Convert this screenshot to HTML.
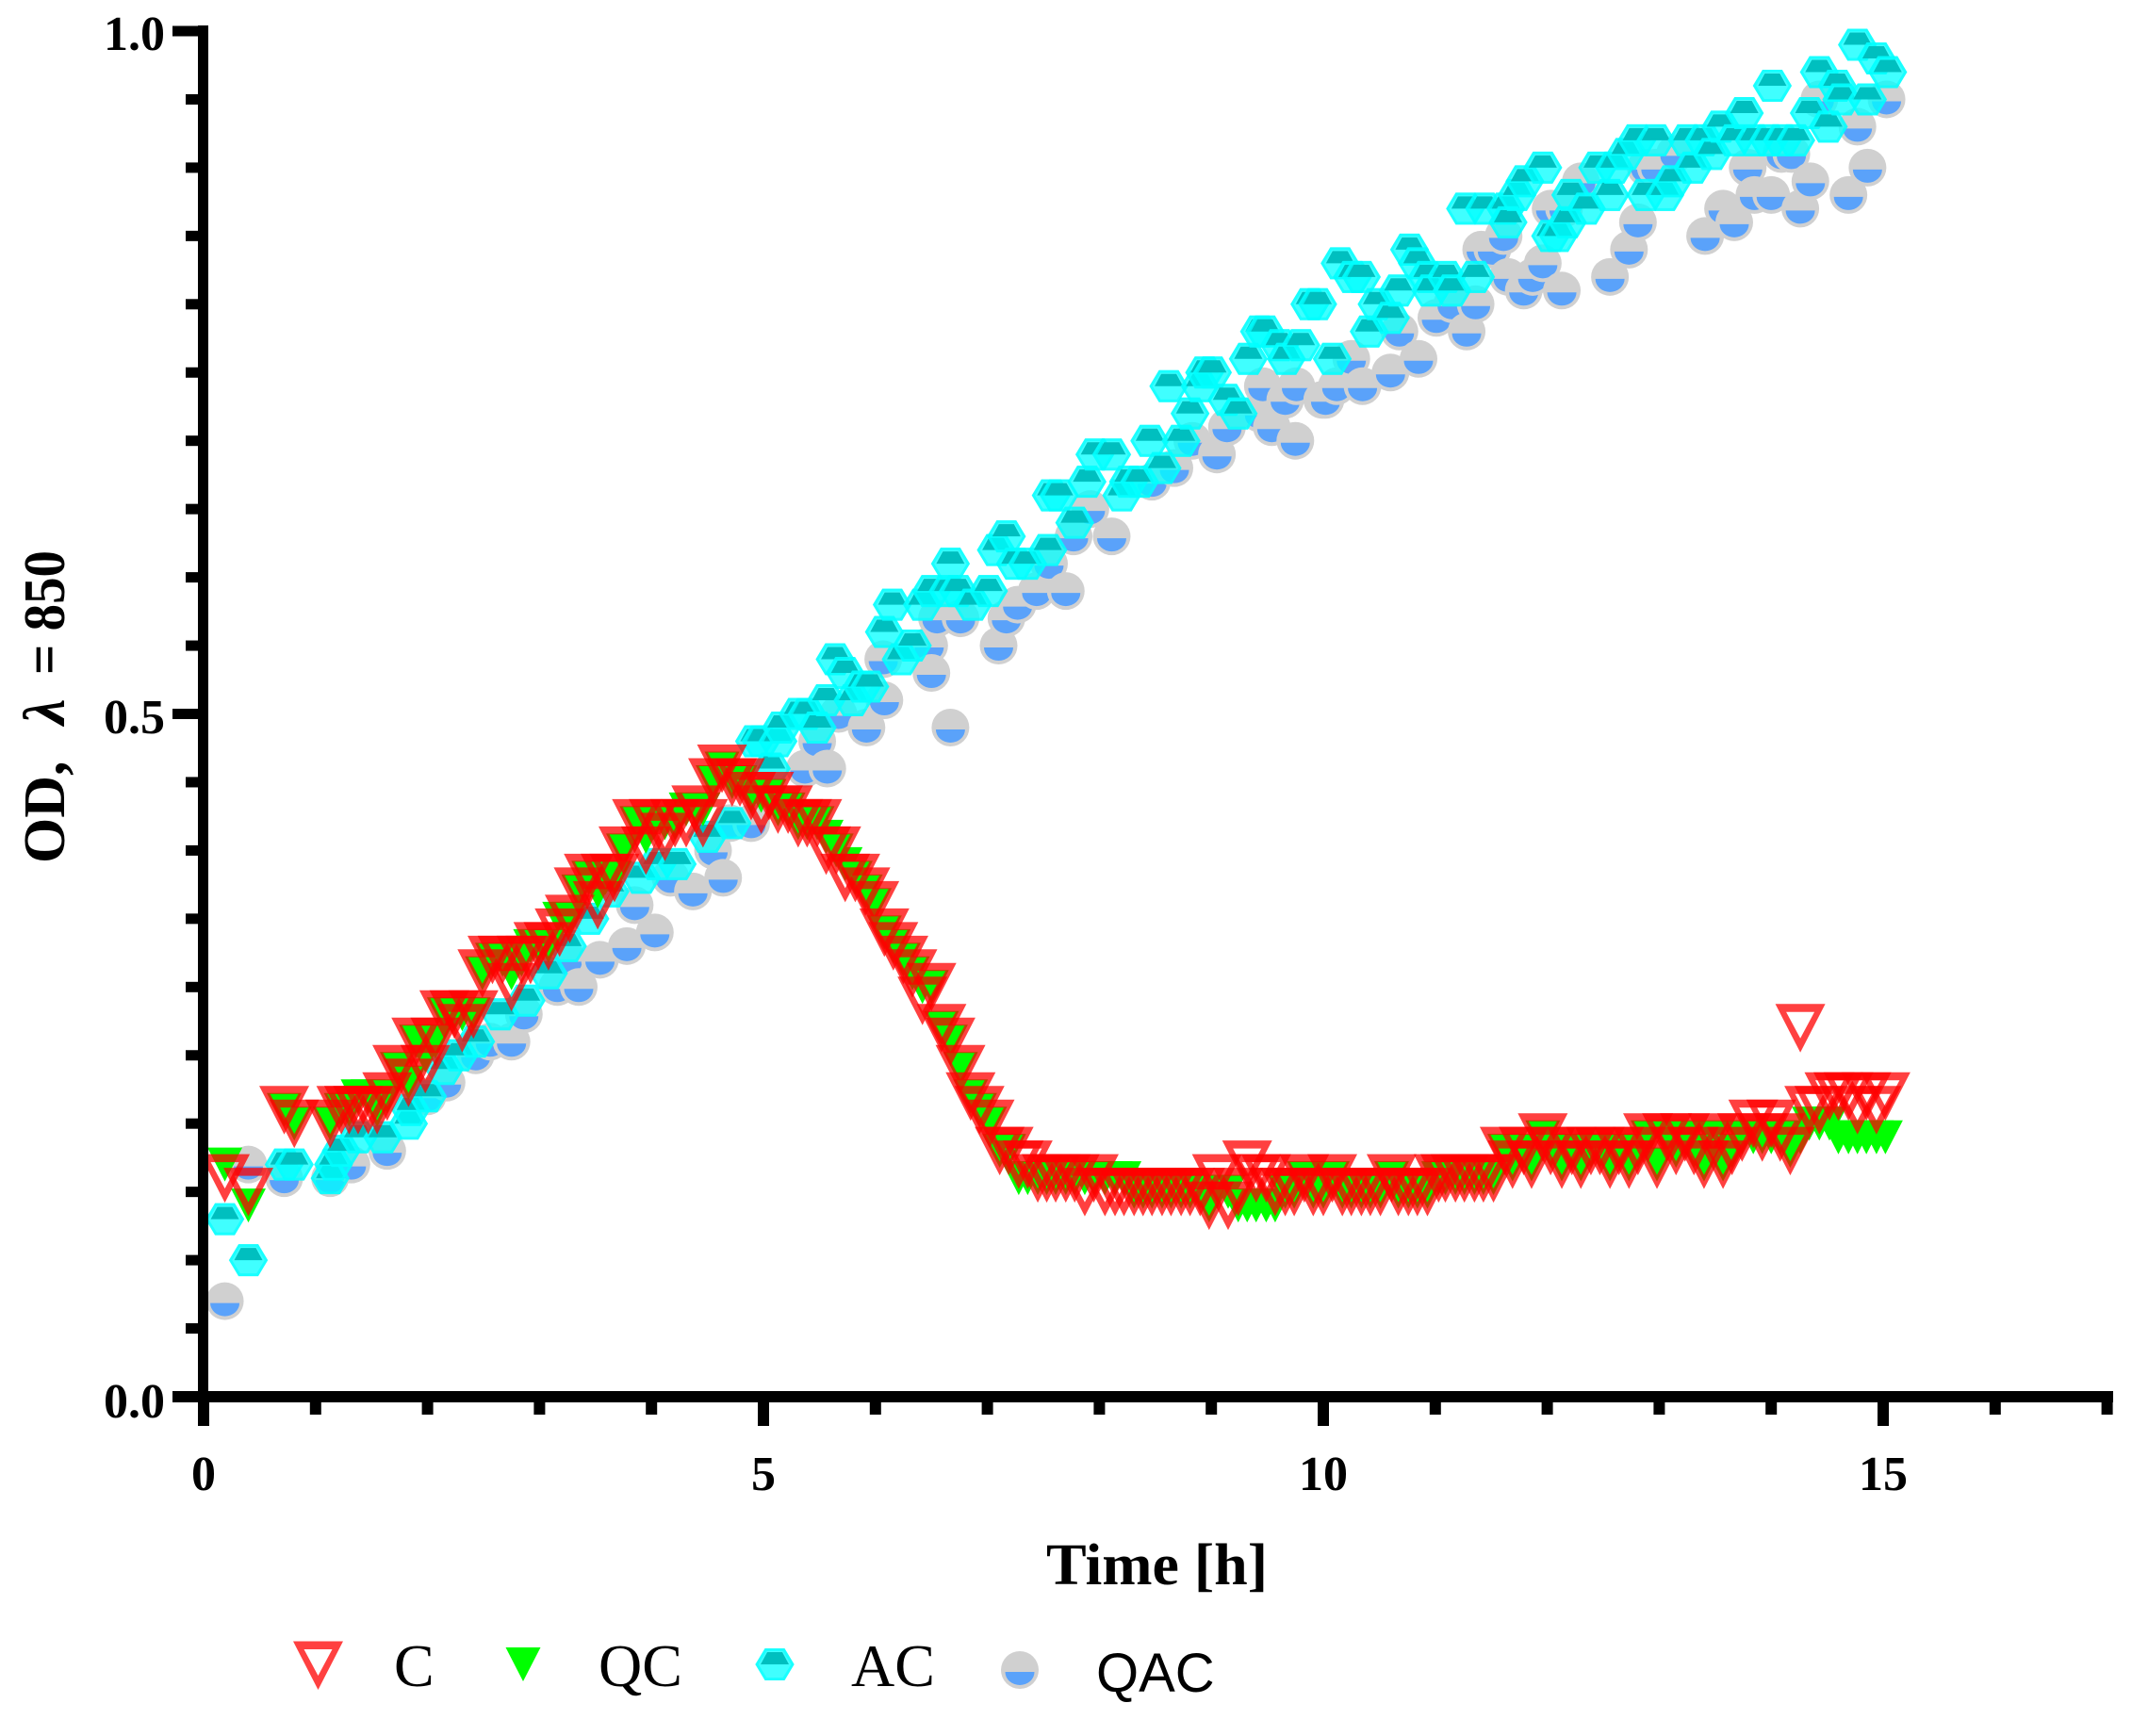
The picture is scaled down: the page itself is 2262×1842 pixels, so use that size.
<!DOCTYPE html>
<html lang="en">
<head>
<meta charset="utf-8">
<title>OD over time</title>
<style>
html,body{margin:0;padding:0;background:#fff;width:2262px;height:1842px;overflow:hidden}
svg{position:absolute;left:0;top:0;display:block}
text{fill:#000}
.tick{font:bold 52px "Liberation Serif",serif}
.title{font:bold 62px "Liberation Serif",serif}
.leg{font:64px "Liberation Serif",serif}
.legs{font:58px "Liberation Sans",sans-serif}
</style>
</head>
<body>
<svg id="chart" xmlns="http://www.w3.org/2000/svg" width="2262" height="1842" viewBox="0 0 2262 1842">
  <rect width="2262" height="1842" fill="#fff"/>
  <g id="marks"></g>
  <g id="axes"></g>

  <text class="tick" x="175" y="53" text-anchor="end">1.0</text>
  <text class="tick" x="175" y="778" text-anchor="end">0.5</text>
  <text class="tick" x="175" y="1504" text-anchor="end">0.0</text>
  <text class="tick" x="216" y="1581" text-anchor="middle">0</text>
  <text class="tick" x="810" y="1581" text-anchor="middle">5</text>
  <text class="tick" x="1404" y="1581" text-anchor="middle">10</text>
  <text class="tick" x="1998" y="1581" text-anchor="middle">15</text>

  <text class="title" x="1110" y="1681" textLength="235" lengthAdjust="spacingAndGlyphs">Time [h]</text>
  <g>
    <text class="title" transform="translate(68,916) rotate(-90)">OD,</text>
    <text class="title" transform="translate(68,769) rotate(-90)" style="font-style:italic">λ</text>
    <text class="title" transform="translate(68,716) rotate(-90)" textLength="132" lengthAdjust="spacingAndGlyphs">= 850</text>
  </g>

  <g>
    <g id="legend-c-symbol" transform="translate(337.5,1767)"></g>
    <text class="leg" x="418" y="1789">C</text>
    <g id="legend-qc-symbol" transform="translate(555,1766)"></g>
    <text class="leg" x="635" y="1789">QC</text>
    <g id="legend-ac-symbol" transform="translate(822,1766)"></g>
    <text class="leg" x="903" y="1789">AC</text>
    <g id="legend-qac-symbol" transform="translate(1082,1772)"></g>
    <text class="legs" x="1163" y="1795">QAC</text>
  </g>
</svg>

<script>
var redTimes = [
0.19,0.40,0.72,0.81,1.13,1.23,1.30,1.38,1.47,1.55,
1.64,1.73,1.83,1.90,1.98,2.07,2.15,2.24,2.31,2.41,
2.49,2.58,2.67,2.75,2.84,2.92,2.99,3.08,3.18,3.27,
3.35,3.44,3.52,3.59,3.67,3.75,3.87,3.95,4.02,4.12,
4.21,4.31,4.40,4.46,4.55,4.63,4.72,4.79,4.89,4.98,
5.05,5.13,5.22,5.31,5.39,5.48,5.56,5.65,5.73,5.82,
5.91,5.99,6.08,6.16,6.25,6.33,6.42,6.50,6.59,6.67,
6.76,6.85,6.93,7.02,7.11,7.19,7.28,7.36,7.45,7.53,
7.61,7.70,7.78,7.87,7.95,8.05,8.14,8.22,8.31,8.39,
8.47,8.56,8.64,8.73,8.81,8.90,8.98,9.05,9.15,9.24,
9.32,9.40,9.49,9.57,9.66,9.74,9.83,9.91,10.00,10.08,
10.17,10.25,10.34,10.42,10.51,10.61,10.67,10.76,10.84,10.93,
11.03,11.09,11.18,11.26,11.35,11.43,11.52,11.62,11.69,11.79,
11.86,11.96,12.03,12.13,12.22,12.30,12.39,12.47,12.56,12.64,
12.73,12.81,12.90,12.98,13.07,13.15,13.23,13.31,13.40,13.48,
13.57,13.65,13.74,13.84,13.92,14.00,14.08,14.17,14.26,14.34,
14.43,14.52,14.60,14.69,14.77,14.85,14.94,15.02];

var cValues = [
.16,.15,.21,.20,.20,.21,.21,.21,.21,.21,
.22,.24,.23,.26,.24,.26,.28,.28,.27,.28,
.31,.32,.32,.30,.32,.32,.33,.33,.34,.35,
.37,.38,.36,.38,.38,.40,.42,.40,.42,.41,
.42,.42,.43,.42,.45,.46,.45,.45,.44,.43,
.44,.43,.43,.42,.42,.42,.40,.40,.38,.38,
.37,.36,.34,.33,.32,.31,.29,.30,.27,.26,
.24,.22,.21,.20,.18,.18,.17,.17,.16,.16,
.16,.16,.16,.15,.16,.15,.15,.15,.15,.15,
.15,.15,.15,.15,.15,.15,.14,.16,.14,.15,
.17,.16,.16,.15,.15,.15,.16,.15,.15,.16,
.15,.15,.15,.15,.15,.16,.15,.15,.15,.15,
.16,.16,.16,.16,.16,.16,.16,.18,.17,.18,
.17,.19,.18,.17,.18,.17,.18,.18,.17,.18,
.17,.18,.19,.17,.19,.18,.19,.18,.17,.19,
.17,.18,.19,.20,.19,.20,.19,.18,.27,.21,
.21,.22,.22,.22,.21,.22,.21,.22];

var qcValues = [
.17,.14,.21,.20,.20,.21,.21,.22,.22,.21,
.22,.24,.23,.26,.25,.26,.28,.28,.28,.28,
.31,.32,.32,.31,.32,.33,.33,.33,.35,.35,
.37,.38,.37,.38,.38,.40,.42,.41,.42,.42,
.42,.43,.43,.43,.45,.46,.45,.45,.44,.44,
.44,.43,.43,.42,.42,.42,.41,.40,.39,.38,
.37,.36,.34,.33,.32,.31,.30,.30,.27,.26,
.24,.22,.21,.20,.18,.18,.16,.16,.16,.16,
.16,.16,.16,.16,.16,.16,.16,.16,.15,.15,
.15,.15,.15,.15,.15,.15,.14,.15,.15,.14,
.14,.14,.14,.14,.15,.15,.16,.15,.15,.16,
.15,.15,.15,.15,.15,.16,.15,.15,.15,.15,
.16,.16,.16,.16,.16,.16,.16,.18,.17,.18,
.17,.19,.18,.17,.18,.17,.18,.18,.17,.18,
.17,.18,.19,.17,.19,.18,.19,.18,.17,.19,
.17,.18,.19,.19,.19,.19,.19,.18,.19,.20,
.20,.20,.19,.19,.19,.19,.19,.19];

var acTimes = [
0.19,0.40,0.72,0.81,1.13,1.16,1.23,1.38,1.60,1.83,1.85,2.00,2.15,2.28,2.43,2.65,2.88,3.08,3.25,3.45,
3.63,3.91,4.05,4.23,4.50,4.72,4.92,4.98,5.07,5.13,5.16,5.31,5.39,5.48,5.56,5.64,5.73,5.80,5.88,5.95,
6.08,6.15,6.23,6.33,6.42,6.50,6.65,6.67,6.74,6.87,7.01,7.08,7.17,7.25,7.36,7.54,7.57,7.64,7.78,7.89,
7.96,8.11,8.20,8.26,8.36,8.45,8.56,8.62,8.73,8.81,8.90,8.94,9.01,9.14,9.24,9.33,9.43,9.48,9.61,9.67,
9.80,9.88,9.95,10.08,10.15,10.26,10.34,10.41,10.48,10.60,10.67,10.77,10.84,10.93,10.96,11.10,11.15,11.27,11.36,11.44,
11.63,11.65,11.73,11.80,11.96,12.03,12.10,12.18,12.21,12.35,12.45,12.56,12.60,12.70,12.80,12.88,12.97,13.05,13.12,13.25,
13.30,13.40,13.47,13.55,13.67,13.76,13.85,13.98,14.01,14.10,14.22,14.34,14.43,14.51,14.59,14.63,14.77,14.86,14.94,15.04];

var acValues = [
.13,.10,.17,.17,.16,.17,.18,.19,.19,.20,.21,.22,.24,.25,.26,.28,.29,.31,.33,.35,
.37,.38,.39,.39,.41,.42,.48,.48,.46,.48,.49,.50,.50,.49,.51,.54,.53,.51,.52,.52,
.56,.58,.54,.55,.58,.59,.59,.61,.59,.58,.59,.62,.63,.61,.61,.62,.66,.66,.64,.67,
.69,.69,.66,.67,.67,.70,.68,.74,.70,.72,.74,.75,.75,.73,.72,.76,.78,.78,.77,.76,
.77,.80,.80,.76,.83,.82,.82,.78,.80,.79,.81,.84,.83,.82,.81,.82,.81,.87,.82,.87,
.87,.86,.88,.89,.90,.85,.85,.86,.88,.87,.90,.88,.90,.91,.92,.88,.92,.88,.89,.92,
.90,.92,.91,.93,.92,.94,.92,.92,.96,.92,.92,.94,.97,.93,.96,.95,.99,.95,.98,.97];

var qacTimes = [
0.19,0.40,0.72,1.13,1.32,1.64,2.00,2.17,2.43,2.56,2.75,2.86,3.16,3.25,3.35,3.54,3.78,3.85,4.03,4.17,
4.37,4.55,4.64,4.70,4.89,5.37,5.48,5.57,5.67,5.92,6.07,6.08,6.48,6.50,6.55,6.67,6.76,7.10,7.17,7.27,
7.44,7.55,7.70,7.77,7.92,8.11,8.47,8.67,8.83,9.05,9.14,9.43,9.46,9.54,9.66,9.75,9.76,9.99,10.02,10.12,
10.25,10.35,10.60,10.68,10.85,11.01,11.15,11.28,11.36,11.41,11.51,11.61,11.65,11.79,11.87,11.96,12.03,12.13,12.15,12.30,
12.56,12.73,12.81,12.88,12.97,13.14,13.41,13.57,13.67,13.79,13.85,14.00,14.09,14.18,14.26,14.35,14.43,14.69,14.77,14.86,15.03];

var qacValues = [
.07,.17,.16,.16,.17,.18,.22,.23,.25,.26,.26,.28,.30,.32,.30,.32,.33,.36,.34,.38,
.37,.40,.38,.42,.42,.46,.48,.46,.50,.49,.54,.51,.55,.53,.57,.49,.57,.55,.57,.58,
.59,.61,.59,.63,.65,.63,.67,.68,.70,.69,.71,.72,.74,.71,.73,.70,.74,.73,.73,.74,
.76,.74,.75,.78,.76,.79,.80,.78,.80,.84,.84,.85,.82,.81,.82,.83,.87,.81,.87,.89,
.82,.84,.86,.90,.90,.91,.85,.87,.86,.90,.88,.88,.91,.91,.87,.89,.95,.88,.93,.90,.95];

var xMinorTicks = [0,1,2,3,4,5,6,7,8,9,10,11,12,13,14,15,16,17];
var xMajorTicks = [0,5,10,15];
var yMinorTicks = [0,.05,.1,.15,.2,.25,.3,.35,.4,.45,.5,.55,.6,.65,.7,.75,.8,.85,.9,.95,1];
var yMajorTicks = [0,.5,1];

var NS = 'http://www.w3.org/2000/svg';
function X(t){ return 216 + 118.8 * t; }
function Y(v){ return 1482 - 1449 * v; }
function mk(tag, attrs, parent){
  var e = document.createElementNS(NS, tag);
  for (var k in attrs) e.setAttribute(k, attrs[k]);
  if (parent) parent.appendChild(e);
  return e;
}

function drawC(g){
  mk('path',{d:'M-26.5,-25.5H26.5L0,26ZM-15,-17L0,11L15,-17Z','fill-rule':'evenodd',fill:'rgba(255,0,0,.75)'},g);
}
function drawQC(g){
  mk('polygon',{points:'-18.5,-18 18.5,-18 0,18',fill:'#00ff00'},g);
}
function drawAC(g){
  mk('polygon',{points:'-20.5,0 -10.5,-17 10.5,-17 20.5,0 10.5,17 -10.5,17',fill:'rgba(0,255,255,.75)'},g);
  mk('polygon',{points:'-19,0 -9.5,-15.5 9.5,-15.5 19,0 9.5,15.5 -9.5,15.5',fill:'none',stroke:'rgba(0,255,255,.6)','stroke-width':3},g);
  mk('polygon',{points:'-15,0 -8,-13 8,-13 15,0',fill:'#00bfbf'},g);
}
function drawQAC(g){
  mk('circle',{cx:0,cy:0,r:20,fill:'#d0d0d0'},g);
  mk('path',{d:'M-15.5,2A15.5,14 0 0 0 15.5,2Z',fill:'#5aa2fa'},g);
}

var marks = document.getElementById('marks');

var qacGroup = mk('g',{},marks);


qacTimes.forEach(function(t,i){
  var g = mk('g',{transform:'translate('+X(t)+','+Y(qacValues[i])+')'},qacGroup);
  
  
  drawQAC(g);
});

var acGroup = mk('g',{},marks);


acTimes.forEach(function(t,i){
  var g = mk('g',{transform:'translate('+X(t)+','+Y(acValues[i])+')'},acGroup);
  
  
  drawAC(g);
});

var qcGroup = mk('g',{},marks);


redTimes.forEach(function(t,i){
  var g = mk('g',{transform:'translate('+X(t)+','+Y(qcValues[i])+')'},qcGroup);
  
  
  drawQC(g);
});

var cGroup = mk('g',{},marks);


redTimes.forEach(function(t,i){
  var g = mk('g',{transform:'translate('+X(t)+','+Y(cValues[i])+')'},cGroup);
  
  
  drawC(g);
});

var axes = document.getElementById('axes');
var yAxisLine = mk('rect',{x:210,y:27,width:11,height:1486,fill:'#000'},axes);


var xAxisLine = mk('rect',{x:183,y:1476,width:2059,height:12,fill:'#000'},axes);



xMinorTicks.forEach(function(t){
  var major = xMajorTicks.indexOf(t) >= 0;
  var r = mk('rect',{x:X(t)-6,y:1488,width:12,height:major?25:13,fill:'#000'},axes);
  
  
});
yMinorTicks.forEach(function(v){
  var major = yMajorTicks.indexOf(v) >= 0;
  var r = mk('rect',{x:major?183:197,y:Y(v)-5.5,width:major?27:13,height:11,fill:'#000'},axes);
  
  
});

drawC(document.getElementById('legend-c-symbol'));
drawQC(document.getElementById('legend-qc-symbol'));
drawAC(document.getElementById('legend-ac-symbol'));
drawQAC(document.getElementById('legend-qac-symbol'));
</script>
</body>
</html>
